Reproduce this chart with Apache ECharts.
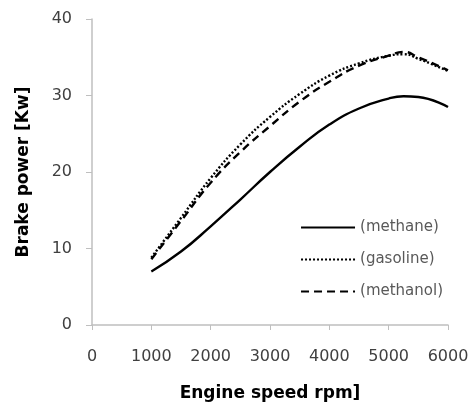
<!DOCTYPE html>
<html>
<head>
<meta charset="utf-8">
<script src="https://cdn.jsdelivr.net/npm/echarts@6/dist/echarts.min.js"></script>
<style>
  html,body{margin:0;padding:0;background:#fff;}
  #chart{width:476px;height:407px;}
</style>
</head>
<body>
<div id="chart"></div>
<script>
// engine speed (rpm)
var speed = [1000, 1500, 2000, 2500, 3000, 3500, 4000, 4500, 5000, 5250, 5500, 6000];
// brake power (kW)
var methane  = [7.0, 9.6, 12.9, 16.4, 20.0, 23.3, 26.2, 28.3, 29.6, 29.9, 29.8, 28.5];
var gasoline = [8.8, 14.0, 19.2, 23.6, 27.2, 30.2, 32.6, 34.2, 35.2, 35.4, 34.8, 33.2];
var methanol = [8.6, 13.6, 18.6, 22.6, 26.0, 29.2, 31.8, 33.9, 35.2, 35.7, 35.0, 33.3];
var xTicks = [0, 1000, 2000, 3000, 4000, 5000, 6000];
var yTicks = [0, 10, 20, 30, 40];

function pairs(ys){
  var out = [];
  for (var i = 0; i < speed.length; i++) out.push([speed[i], ys[i]]);
  return out;
}

var font = 'DejaVu Sans';
var chart = echarts.init(document.getElementById('chart'));

function line(name, ys, type){
  return {
    name: name,
    type: 'line',
    data: pairs(ys),
    smooth: true,
    symbol: 'none',
    lineStyle: {color: '#000', width: 2.4, type: type},
    itemStyle: {color: '#000'}
  };
}

chart.setOption({
  animation: false,
  grid: {left: 92, right: 28, top: 19, bottom: 79},
  legend: {
    orient: 'vertical',
    right: 28,
    top: 215,
    itemWidth: 54,
    itemHeight: 10,
    itemGap: 17,
    itemStyle: {opacity: 0},
    textStyle: {fontFamily: font, fontSize: 15, color: '#595959'},
    data: ['(methane)', '(gasoline)', '(methanol)']
  },
  xAxis: {
    type: 'value',
    min: 0, max: 6000, interval: 1000,
    name: 'Engine speed rpm]',
    nameLocation: 'middle',
    nameGap: 60,
    nameTextStyle: {fontFamily: font, fontSize: 17, fontWeight: 'bold', color: '#000'},
    axisLine: {lineStyle: {color: '#bfbfbf', width: 1.5}},
    axisTick: {show: true, length: 5, lineStyle: {color: '#bfbfbf'}},
    axisLabel: {fontFamily: font, fontSize: 16, color: '#404040', margin: 24,
      formatter: function(v){ return xTicks.indexOf(v) >= 0 ? String(v) : ''; }},
    splitLine: {show: false}
  },
  yAxis: {
    type: 'value',
    min: 0, max: 40, interval: 10,
    name: 'Brake power [Kw]',
    nameLocation: 'middle',
    nameGap: 60,
    nameTextStyle: {fontFamily: font, fontSize: 17, fontWeight: 'bold', color: '#000'},
    axisLine: {show: true, lineStyle: {color: '#bfbfbf', width: 1.5}},
    axisTick: {show: true, length: 6, lineStyle: {color: '#bfbfbf'}},
    axisLabel: {fontFamily: font, fontSize: 16, color: '#404040', margin: 20,
      formatter: function(v){ return yTicks.indexOf(v) >= 0 ? String(v) : ''; }},
    splitLine: {show: false}
  },
  series: [
    line('(methane)', methane, 'solid'),
    line('(gasoline)', gasoline, [2, 2]),
    line('(methanol)', methanol, [8, 5])
  ]
});
</script>
</body>
</html>
